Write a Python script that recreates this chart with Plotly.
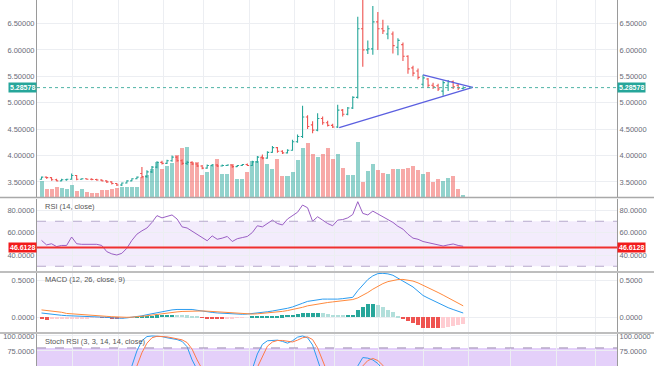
import plotly.graph_objects as go

# ---------------- data ----------------
open_ = [3.55, 3.59, 3.58, 3.54, 3.52, 3.54, 3.55, 3.62, 3.55, 3.56,
         3.55, 3.545, 3.535, 3.52, 3.50, 3.47, 3.44, 3.48, 3.52, 3.56,
         3.66, 3.60, 3.69, 3.78, 3.87, 3.85, 3.90, 3.97, 3.90, 3.85,
         3.87, 3.84, 3.80, 3.76, 3.81, 3.82, 3.80, 3.81, 3.82, 3.79,
         3.81, 3.83, 3.81, 3.88, 3.97, 3.95, 4.06, 4.15, 4.08, 4.05,
         4.10, 4.26, 4.36, 4.73, 4.58, 4.48, 4.70, 4.62, 4.57, 4.54,
         4.86, 4.78, 4.90, 5.10, 6.40, 6.00, 6.02, 6.53, 6.40, 6.30,
         6.30, 6.05, 6.10, 5.88, 5.66, 5.60, 5.35, 5.45, 5.33, 5.32,
         5.22, 5.33, 5.40, 5.33, 5.27]
high = [3.60, 3.60, 3.59, 3.56, 3.56, 3.56, 3.66, 3.63, 3.57, 3.57,
        3.57, 3.56, 3.55, 3.53, 3.51, 3.48, 3.49, 3.53, 3.57, 3.60,
        3.78, 3.72, 3.80, 3.89, 3.90, 3.92, 4.00, 3.99, 3.93, 3.90,
        3.89, 3.86, 3.82, 3.83, 3.84, 3.84, 3.83, 3.83, 3.83, 3.82,
        3.84, 3.85, 3.90, 3.99, 4.02, 4.08, 4.18, 4.16, 4.10, 4.12,
        4.30, 4.40, 4.94, 4.76, 4.65, 4.80, 4.74, 4.66, 4.60, 4.96,
        4.88, 4.92, 5.12, 6.63, 6.95, 6.18, 6.83, 6.72, 6.57, 6.46,
        6.35, 6.22, 6.14, 5.90, 5.70, 5.65, 5.53, 5.47, 5.38, 5.36,
        5.42, 5.43, 5.42, 5.36, 5.31]
low = [3.54, 3.56, 3.52, 3.51, 3.51, 3.52, 3.54, 3.53, 3.54, 3.54,
       3.53, 3.52, 3.51, 3.48, 3.45, 3.42, 3.42, 3.47, 3.51, 3.55,
       3.57, 3.58, 3.67, 3.76, 3.83, 3.84, 3.88, 3.88, 3.82, 3.82,
       3.82, 3.78, 3.74, 3.75, 3.79, 3.78, 3.79, 3.80, 3.77, 3.78,
       3.80, 3.80, 3.80, 3.86, 3.93, 3.94, 4.05, 4.05, 4.03, 4.04,
       4.09, 4.24, 4.33, 4.50, 4.42, 4.46, 4.58, 4.55, 4.52, 4.52,
       4.74, 4.76, 4.88, 5.08, 5.68, 5.92, 5.91, 6.00, 6.30, 6.20,
       5.93, 5.90, 5.79, 5.55, 5.50, 5.44, 5.30, 5.28, 5.26, 5.22,
       5.13, 5.22, 5.26, 5.24, 5.25]
close = [3.59, 3.58, 3.54, 3.52, 3.54, 3.55, 3.62, 3.55, 3.56, 3.55,
         3.545, 3.535, 3.52, 3.50, 3.47, 3.44, 3.48, 3.52, 3.56, 3.59,
         3.60, 3.69, 3.78, 3.87, 3.85, 3.90, 3.97, 3.90, 3.85, 3.87,
         3.84, 3.80, 3.76, 3.81, 3.82, 3.80, 3.81, 3.82, 3.79, 3.81,
         3.83, 3.81, 3.88, 3.97, 3.95, 4.06, 4.15, 4.08, 4.05, 4.10,
         4.26, 4.36, 4.73, 4.55, 4.48, 4.70, 4.62, 4.57, 4.54, 4.86,
         4.78, 4.90, 5.10, 6.40, 6.00, 6.02, 6.53, 6.40, 6.36, 6.40,
         6.08, 6.18, 5.88, 5.64, 5.56, 5.48, 5.47, 5.33, 5.30, 5.26,
         5.38, 5.40, 5.30, 5.28, 5.28578]
volume = [16, 8, 8, 10, 9, 8, 12, 6, 8, 5,
          4, 4, 7, 7, 8, 9, 10, 10, 10, 10,
          20, 22, 28, 35, 28, 31, 34, 42, 49, 50,
          35, 35, 22, 25, 31, 38, 23, 23, 33, 18,
          18, 25, 36, 36, 40, 33, 28, 38, 21, 21,
          25, 37, 49, 54, 43, 40, 43, 49, 38, 43,
          29, 22, 22, 55, 15, 26, 33, 27, 24, 23,
          28, 28, 28, 29, 31, 27, 23, 25, 15, 18,
          16, 19, 21, 8, 2]
rsi = [53, 49, 50, 47.5, 48.5, 48.5, 56, 50, 49.5, 49.5,
       49.5, 49.5, 48.5, 43, 41, 40, 41.5, 46, 53, 58.5,
       61.5, 64, 69, 75, 73, 74, 75.6, 72, 65, 64,
       61, 58, 55, 52.7, 57, 54, 55, 56.5, 52, 54.5,
       55.5, 56.5, 60, 66, 65, 68, 71, 68, 66.7, 72,
       75, 78, 84.4, 82, 70, 74, 71, 68, 66, 71,
       71.5, 73, 76, 87.4, 77, 75.6, 79, 76.5, 74, 71,
       69, 65.5, 63, 58.5, 55, 54, 52, 51, 50, 48.5,
       48, 49, 49.8, 48.5, 47.8]
macd = [0.058, 0.048, 0.038, 0.032, 0.027, 0.022, 0.020, 0.017, 0.014, 0.012,
        0.011, 0.010, 0.006, 0.000, -0.007, -0.012, -0.013, -0.008, 0.000, 0.010,
        0.020, 0.035, 0.050, 0.065, 0.078, 0.090, 0.100, 0.106, 0.109, 0.109,
        0.106, 0.095, 0.083, 0.073, 0.066, 0.059, 0.054, 0.050, 0.045, 0.042,
        0.041, 0.044, 0.050, 0.058, 0.066, 0.075, 0.085, 0.094, 0.105, 0.122,
        0.140, 0.160, 0.190, 0.215, 0.228, 0.240, 0.246, 0.246, 0.244, 0.246,
        0.252, 0.260, 0.270, 0.360, 0.440, 0.510, 0.560, 0.590, 0.594, 0.587,
        0.568, 0.532, 0.495, 0.450, 0.410, 0.355, 0.295, 0.260, 0.225, 0.190,
        0.160, 0.130, 0.105, 0.080, 0.058]
signal = [0.100, 0.093, 0.085, 0.077, 0.068, 0.052, 0.046, 0.041, 0.036, 0.031,
          0.027, 0.022, 0.018, 0.013, 0.008, 0.004, 0.001, 0.000, 0.002, 0.006,
          0.012, 0.020, 0.030, 0.040, 0.050, 0.058, 0.066, 0.073, 0.079, 0.083,
          0.086, 0.087, 0.086, 0.083, 0.078, 0.072, 0.067, 0.062, 0.056, 0.050,
          0.046, 0.044, 0.044, 0.047, 0.052, 0.057, 0.063, 0.071, 0.080, 0.091,
          0.104, 0.118, 0.135, 0.155, 0.168, 0.180, 0.191, 0.200, 0.208, 0.215,
          0.222, 0.230, 0.240, 0.262, 0.295, 0.335, 0.380, 0.420, 0.455, 0.482,
          0.500, 0.510, 0.512, 0.505, 0.490, 0.465, 0.435, 0.405, 0.370, 0.335,
          0.300, 0.265, 0.228, 0.190, 0.155]
hist = [-0.020, -0.030, -0.028, -0.025, -0.022, -0.018, -0.016, -0.014, -0.012, -0.010,
        -0.009, -0.008, -0.008, -0.009, -0.011, -0.012, -0.010, -0.006, -0.002, 0.004,
        0.008, 0.015, 0.020, 0.025, 0.028, 0.032, 0.034, 0.033, 0.030, 0.026,
        0.020, 0.008, -0.003, -0.010, -0.012, -0.013, -0.013, -0.012, -0.011, -0.008,
        -0.005, 0.000, 0.006, 0.011, 0.014, 0.018, 0.022, 0.023, 0.025, 0.031,
        0.036, 0.042, 0.055, 0.060, 0.060, 0.060, 0.055, 0.046, 0.036, 0.031,
        0.030, 0.030, 0.030, 0.098, 0.145, 0.175, 0.180, 0.170, 0.139, 0.105,
        0.068, 0.022, -0.017, -0.055, -0.080, -0.110, -0.140, -0.145, -0.145, -0.145,
        -0.140, -0.135, -0.123, -0.110, -0.097]
stoch_k = [20, 15, 12, 8, 10, 15, 30, 25, 20, 18,
           15, 12, 8, 3, 0, 0, 5, 25, 50, 75,
           92, 99, 100, 100, 99, 97, 96, 94, 91, 82,
           60, 38, 20, 12, 10, 14, 18, 20, 15, 14,
           18, 28, 45, 70, 86, 92, 93, 93, 91, 88,
           92, 98, 100, 97, 85, 58, 35, 22, 15, 18,
           22, 26, 35, 50, 64, 63, 60, 54, 40, 28,
           18, 10, 4, 0, 0, 0, 0, 2, 5, 8,
           12, 15, 18, 20, 22]
stoch_d = [25, 20, 16, 12, 10, 11, 18, 23, 25, 21,
           18, 15, 12, 8, 4, 1, 3, 10, 27, 50,
           72, 88, 97, 99.5, 99.5, 98.5, 97, 95.5, 93.5, 89,
           78, 60, 39, 23, 14, 12, 14, 17, 18, 16,
           16, 20, 30, 48, 67, 83, 90, 92.5, 92.5, 91,
           90, 93, 97, 98.5, 94, 80, 59, 38, 24, 18,
           18, 22, 28, 37, 50, 59, 62.5, 59, 51, 41,
           29, 19, 11, 5, 1, 0, 0, 1, 2, 5,
           8, 12, 15, 18, 20]
rsi_level = 46.6128
tri_lower_x, tri_lower_y = [59.3, 85.9], [4.527, 5.29]
tri_upper_x, tri_upper_y = [76.0, 85.9], [5.525, 5.29]
price_ticks = [3.5, 4.0, 4.5, 5.0, 5.5, 6.0, 6.5]
rsi_ticks = [40, 60, 80]
macd_ticks = [0.0, 0.5]
stoch_ticks = [50, 75, 100]

idx = list(range(len(close)))

# ---------------- style ----------------
W, H = 654, 366
L_PX, R_PX = 37, 617
PW = R_PX - L_PX
UP, DN = "#26a69a", "#ef5350"
GRID = "#eceef2"
TICKC = "#6a6d78"
FONT = "Liberation Sans"
xgrid = [6.2, 15.3, 24.3, 32.2, 41.4, 50.3, 58.4, 67.2, 76.1, 85.1, 93.4, 102.5, 110.3]
x_range = [-0.9, 114.64]


def py(px):
    return 1 - px / H


vol_colors = ["rgba(38,166,154,0.5)" if c >= o else "rgba(239,83,80,0.5)"
              for o, c in zip(open_, close)]
hist_colors = []
for i, h in enumerate(hist):
    prev = hist[i - 1] if i else h
    if h >= 0:
        hist_colors.append("#26a69a" if h >= prev else "#b2dfdb")
    else:
        hist_colors.append("#ef5350" if h <= prev else "#ffcdd2")

fig = go.Figure()
fig.add_trace(go.Bar(x=idx, y=volume, marker_color=vol_colors, marker_line_width=0,
                     width=0.8, xaxis="x", yaxis="y", hoverinfo="skip"))
fig.add_trace(go.Ohlc(x=idx, open=open_, high=high, low=low, close=close,
                      increasing_line_color=UP, decreasing_line_color=DN,
                      line_width=1.1, tickwidth=0.35, xaxis="x", yaxis="y2"))
fig.add_trace(go.Scatter(x=tri_lower_x, y=tri_lower_y, mode="lines",
                         line=dict(color="#5b5fe0", width=1.3), xaxis="x", yaxis="y2"))
fig.add_trace(go.Scatter(x=tri_upper_x, y=tri_upper_y, mode="lines",
                         line=dict(color="#5b5fe0", width=1.3), xaxis="x", yaxis="y2"))
fig.add_trace(go.Scatter(x=[None], y=[None], xaxis="x", yaxis="y9"))

fig.add_trace(go.Scatter(x=idx, y=rsi, mode="lines", line=dict(color="#9a5fc4", width=1),
                         xaxis="x2", yaxis="y3"))
fig.add_trace(go.Scatter(x=[None], y=[None], xaxis="x2", yaxis="y4"))

fig.add_trace(go.Bar(x=idx, y=hist, marker_color=hist_colors, marker_line_width=0,
                     width=0.8, xaxis="x3", yaxis="y5"))
fig.add_trace(go.Scatter(x=idx, y=macd, mode="lines", line=dict(color="#2b9cf0", width=1),
                         xaxis="x3", yaxis="y5"))
fig.add_trace(go.Scatter(x=idx, y=signal, mode="lines", line=dict(color="#ff8a3d", width=1),
                         xaxis="x3", yaxis="y5"))
fig.add_trace(go.Scatter(x=[None], y=[None], xaxis="x3", yaxis="y6"))

fig.add_trace(go.Scatter(x=idx, y=stoch_k, mode="lines", line=dict(color="#2b9cf0", width=1),
                         xaxis="x4", yaxis="y7"))
fig.add_trace(go.Scatter(x=idx, y=stoch_d, mode="lines", line=dict(color="#ff7a45", width=1),
                         xaxis="x4", yaxis="y7"))
fig.add_trace(go.Scatter(x=[None], y=[None], xaxis="x4", yaxis="y8"))

xcommon = dict(domain=[0, 1], range=x_range, showticklabels=False, tickvals=xgrid,
               showgrid=True, gridcolor=GRID, gridwidth=1, zeroline=False, ticks="",
               automargin=False)
ycommon = dict(showgrid=True, gridcolor=GRID, zeroline=False, ticks="", automargin=False,
               tickfont=dict(size=7.5, color=TICKC, family=FONT),
               showline=True, linecolor="#9a9a9a", linewidth=1)

panes = {
    "main": dict(dom=[py(197), 1], rng=[3.214, 6.945], ticks=price_ticks, fmt=".5f"),
    "rsi": dict(dom=[py(271), py(199)], rng=[25.78, 89.78], ticks=rsi_ticks, fmt=".4f"),
    "macd": dict(dom=[py(332), py(273)], rng=[-0.1986, 0.5986], ticks=macd_ticks, fmt=".4f"),
    "stoch": dict(dom=[0, py(334)], rng=[49.9, 103.3], ticks=stoch_ticks, fmt=".4f"),
}

layout = dict(
    width=W, height=H, autosize=False, showlegend=False,
    margin=dict(l=L_PX, r=W - R_PX, t=0, b=0, pad=0, autoexpand=False),
    paper_bgcolor="white", plot_bgcolor="white", bargap=0,
    font=dict(family=FONT, size=7.5, color=TICKC),
    xaxis=dict(xcommon, anchor="y", rangeslider=dict(visible=False)),
    xaxis2=dict(xcommon, anchor="y3", matches="x"),
    xaxis3=dict(xcommon, anchor="y5", matches="x"),
    xaxis4=dict(xcommon, anchor="y7", matches="x"),
    yaxis=dict(domain=panes["main"]["dom"], range=[0, 197], visible=False, anchor="x",
               automargin=False),
)
axis_cfg = {"main": ("yaxis2", "yaxis9", "x"), "rsi": ("yaxis3", "yaxis4", "x2"),
            "macd": ("yaxis5", "yaxis6", "x3"), "stoch": ("yaxis7", "yaxis8", "x4")}
overlay_of = {"main": "y", "rsi": "y3", "macd": "y5", "stoch": "y7"}
for name, (left_id, right_id, xa) in axis_cfg.items():
    p = panes[name]
    left = dict(ycommon, domain=p["dom"], range=p["rng"], tickvals=p["ticks"],
                tickformat=p["fmt"], side="left", anchor=xa)
    right = dict(ycommon, domain=p["dom"], range=p["rng"], tickvals=p["ticks"],
                 tickformat=p["fmt"], side="right", showgrid=False, anchor=xa,
                 overlaying=overlay_of[name])
    if name == "main":
        left["overlaying"] = "y"
    layout[left_id] = left
    layout[right_id] = right

shapes = []
# RSI band
shapes.append(dict(type="rect", xref="x2 domain", yref="y3", x0=0, x1=1, y0=30, y1=70,
                   fillcolor="rgba(155,100,230,0.12)", line_width=0, layer="below"))
for lv in (30, 70):
    shapes.append(dict(type="line", xref="x2 domain", yref="y3", x0=0, x1=1, y0=lv, y1=lv,
                       line=dict(color="#b7a9cc", width=1, dash="dash")))
shapes.append(dict(type="line", xref="x2 domain", yref="y3", x0=0, x1=1,
                   y0=rsi_level, y1=rsi_level, line=dict(color="#f0302f", width=2)))
# Stoch band
shapes.append(dict(type="rect", xref="x4 domain", yref="y7", x0=0, x1=1, y0=20, y1=80,
                   fillcolor="rgba(170,110,240,0.32)", line_width=0, layer="below"))
shapes.append(dict(type="line", xref="x4 domain", yref="y7", x0=0, x1=1, y0=80, y1=80,
                   line=dict(color="#9c8ab0", width=1, dash="dash")))
# price line
shapes.append(dict(type="line", xref="x domain", yref="y2", x0=0, x1=1,
                   y0=close[-1], y1=close[-1],
                   line=dict(color="#4fb3a6", width=1, dash="dot")))
# pane separators (full figure width)
for ypx in (197.5, 272, 333):
    shapes.append(dict(type="line", xref="paper", yref="paper", x0=-L_PX / PW,
                       x1=1 + (W - R_PX) / PW, y0=py(ypx), y1=py(ypx),
                       line=dict(color="#a9a9a9", width=1.5)))
layout["shapes"] = shapes

ann = []
titles = [("RSI (14, close)", 206.5), ("MACD (12, 26, close, 9)", 279.5),
          ("Stoch RSI (3, 3, 14, 14, close)", 341)]
for t, ypx in titles:
    ann.append(dict(text=t, xref="paper", yref="paper", x=6 / PW, y=py(ypx),
                    xanchor="left", yanchor="middle", showarrow=False,
                    font=dict(size=7.5, color="#555", family=FONT)))
last_txt = f"{close[-1]:.5f}"
rsi_txt = f"{rsi_level:.4f}"
for xa, xanc in ((0, "right"), (1, "left")):
    ann.append(dict(text=f"<b>{last_txt}</b>", xref="paper", yref="y2", x=xa, y=close[-1],
                    xanchor=xanc, yanchor="middle", showarrow=False, bgcolor=UP,
                    borderpad=1, font=dict(size=7, color="white", family=FONT)))
    ann.append(dict(text=f"<b>{rsi_txt}</b>", xref="paper", yref="y3", x=xa, y=rsi_level,
                    xanchor=xanc, yanchor="middle", showarrow=False, bgcolor="#f21b1b",
                    borderpad=1, font=dict(size=7, color="white", family=FONT)))
layout["annotations"] = ann

fig.update_layout(**layout)
fig.write_html("out.html", config={"displayModeBar": False},
               post_script="document.body.style.margin='0';"
                           "document.body.style.overflow='hidden';")
